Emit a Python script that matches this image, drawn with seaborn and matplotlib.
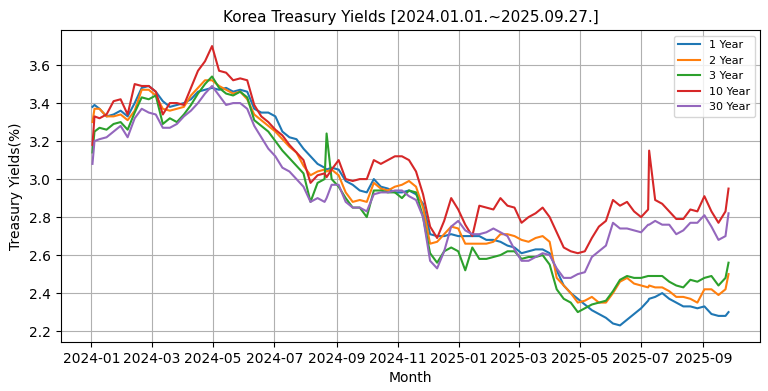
import pandas as pd
import matplotlib
matplotlib.use("Agg")
import matplotlib.pyplot as plt
import matplotlib.dates as mdates
import seaborn as sns

# weekly samples (Tuesdays), 2024-01-02 .. 2025-09-23
weekly_dates = pd.date_range("2024-01-02", "2025-09-23", freq="7D")

y1 = [3.38, 3.37, 3.33, 3.34, 3.36, 3.33, 3.40, 3.48, 3.49, 3.46, 3.41, 3.38, 3.39, 3.40, 3.42, 3.46, 3.47,
      3.48, 3.47, 3.48, 3.46, 3.47, 3.46, 3.37, 3.35, 3.35, 3.33, 3.25, 3.22, 3.21, 3.16, 3.12, 3.08, 3.06,
      3.06, 3.05, 2.99, 2.97, 2.94, 2.93, 3.00, 2.96, 2.95, 2.93, 2.93, 2.94, 2.92, 2.87, 2.71, 2.70,
      2.70, 2.71, 2.70, 2.70, 2.70, 2.70, 2.68, 2.68, 2.67, 2.65, 2.64, 2.61, 2.62, 2.63, 2.63, 2.61,
      2.52, 2.44, 2.40, 2.37, 2.34, 2.31, 2.29, 2.27, 2.24, 2.23, 2.26, 2.29, 2.32, 2.36, 2.38, 2.40,
      2.37, 2.35, 2.33, 2.33, 2.32, 2.33, 2.29, 2.28, 2.28]
y2 = [3.30, 3.37, 3.33, 3.33, 3.34, 3.31, 3.36, 3.47, 3.47, 3.44, 3.37, 3.36, 3.37, 3.38, 3.44, 3.48, 3.52,
      3.52, 3.49, 3.47, 3.45, 3.46, 3.42, 3.34, 3.31, 3.28, 3.25, 3.21, 3.17, 3.14, 3.07, 3.02, 3.04, 3.05,
      3.05, 3.02, 2.93, 2.88, 2.89, 2.88, 2.98, 2.95, 2.94, 2.96, 2.97, 2.99, 2.96, 2.85, 2.66, 2.67,
      2.71, 2.75, 2.74, 2.66, 2.66, 2.66, 2.66, 2.67, 2.71, 2.71, 2.70, 2.68, 2.67, 2.69, 2.70, 2.67,
      2.48, 2.44, 2.40, 2.35, 2.36, 2.38, 2.35, 2.35, 2.40, 2.46, 2.48, 2.45, 2.44, 2.43, 2.43, 2.43,
      2.41, 2.38, 2.38, 2.37, 2.35, 2.42, 2.42, 2.39, 2.42]
y3 = [3.14, 3.27, 3.26, 3.29, 3.30, 3.26, 3.35, 3.43, 3.42, 3.44, 3.29, 3.32, 3.30, 3.34, 3.39, 3.45, 3.50,
      3.54, 3.48, 3.45, 3.44, 3.46, 3.43, 3.31, 3.28, 3.25, 3.20, 3.15, 3.11, 3.07, 3.03, 2.88, 2.98, 3.00,
      3.00, 2.96, 2.90, 2.85, 2.85, 2.80, 2.94, 2.94, 2.93, 2.93, 2.90, 2.94, 2.93, 2.80, 2.61, 2.56,
      2.62, 2.64, 2.62, 2.52, 2.64, 2.58, 2.58, 2.59, 2.60, 2.62, 2.62, 2.58, 2.59, 2.59, 2.60, 2.55,
      2.42, 2.37, 2.35, 2.30, 2.32, 2.34, 2.35, 2.36, 2.41, 2.47, 2.49, 2.48, 2.48, 2.49, 2.49, 2.49,
      2.46, 2.44, 2.43, 2.47, 2.46, 2.48, 2.49, 2.44, 2.48]
y10 = [3.18, 3.32, 3.34, 3.41, 3.42, 3.34, 3.50, 3.49, 3.49, 3.46, 3.34, 3.40, 3.40, 3.39, 3.48, 3.57, 3.62,
       3.70, 3.57, 3.56, 3.52, 3.53, 3.52, 3.39, 3.33, 3.30, 3.26, 3.23, 3.18, 3.14, 3.10, 2.98, 3.02, 3.03,
       3.05, 3.10, 3.00, 2.99, 3.00, 3.00, 3.10, 3.08, 3.10, 3.12, 3.12, 3.10, 3.04, 2.92, 2.75, 2.69,
       2.78, 2.90, 2.84, 2.76, 2.70, 2.86, 2.85, 2.84, 2.90, 2.86, 2.85, 2.77, 2.80, 2.82, 2.85, 2.80,
       2.72, 2.64, 2.62, 2.61, 2.62, 2.69, 2.75, 2.78, 2.89, 2.86, 2.88, 2.83, 2.80, 2.84, 2.89, 2.87,
       2.83, 2.79, 2.79, 2.84, 2.83, 2.91, 2.83, 2.77, 2.83]
y30 = [3.08, 3.21, 3.22, 3.25, 3.28, 3.22, 3.32, 3.37, 3.35, 3.34, 3.27, 3.27, 3.29, 3.33, 3.36, 3.40, 3.45,
       3.49, 3.44, 3.39, 3.40, 3.40, 3.37, 3.28, 3.22, 3.16, 3.12, 3.06, 3.04, 3.00, 2.96, 2.88, 2.90, 2.88,
       2.97, 2.97, 2.88, 2.85, 2.85, 2.83, 2.92, 2.93, 2.93, 2.94, 2.94, 2.91, 2.89, 2.80, 2.57, 2.53,
       2.62, 2.75, 2.78, 2.73, 2.71, 2.71, 2.72, 2.74, 2.72, 2.70, 2.63, 2.57, 2.57, 2.59, 2.61, 2.60,
       2.53, 2.48, 2.48, 2.50, 2.51, 2.59, 2.62, 2.65, 2.77, 2.74, 2.74, 2.73, 2.72, 2.76, 2.78, 2.76,
       2.76, 2.71, 2.73, 2.77, 2.77, 2.81, 2.75, 2.68, 2.70]

# a few extra days: the early jump, the 3Y spike, the 10Y spike, the last day
extra_dates = ["2024-01-04", "2024-08-22", "2025-07-09", "2025-09-26"]
extra_y1 = [3.39, 3.05, 2.37, 2.30]
extra_y2 = [3.37, 3.04, 2.44, 2.50]
extra_y3 = [3.25, 3.24, 2.49, 2.56]
extra_y10 = [3.33, 3.01, 3.15, 2.95]
extra_y30 = [3.20, 2.90, 2.76, 2.82]

labels = ["1 Year", "2 Year", "3 Year", "10 Year", "30 Year"]
colors = ["#1f77b4", "#ff7f0e", "#2ca02c", "#d62728", "#9467bd"]

weekly = pd.DataFrame({"Date": weekly_dates, "1 Year": y1, "2 Year": y2, "3 Year": y3,
                       "10 Year": y10, "30 Year": y30})
extra = pd.DataFrame({"Date": pd.to_datetime(extra_dates), "1 Year": extra_y1, "2 Year": extra_y2,
                      "3 Year": extra_y3, "10 Year": extra_y10, "30 Year": extra_y30})
df = pd.concat([weekly, extra]).sort_values("Date")
long_df = df.melt(id_vars="Date", var_name="Maturity", value_name="Yield")

fig, ax = plt.subplots(figsize=(7.68, 3.91), dpi=100)
fig.subplots_adjust(left=0.079, right=0.99, top=0.923, bottom=0.125)

sns.lineplot(data=long_df, x="Date", y="Yield", hue="Maturity", hue_order=labels,
             palette=colors, linewidth=1.5, ax=ax)

ax.set_ylim(2.142, 3.784)
ax.xaxis.set_major_locator(mdates.MonthLocator(bymonth=[1, 3, 5, 7, 9, 11]))
ax.xaxis.set_major_formatter(mdates.DateFormatter("%Y-%m"))
ax.grid(True)
ax.set_title("Korea Treasury Yields [2024.01.01.~2025.09.27.]", fontsize=11)
ax.set_xlabel("Month")
ax.set_ylabel("Treasury Yields(%)")
ax.legend(loc="upper right", fontsize=8)

fig.savefig("out.png", dpi=100)
